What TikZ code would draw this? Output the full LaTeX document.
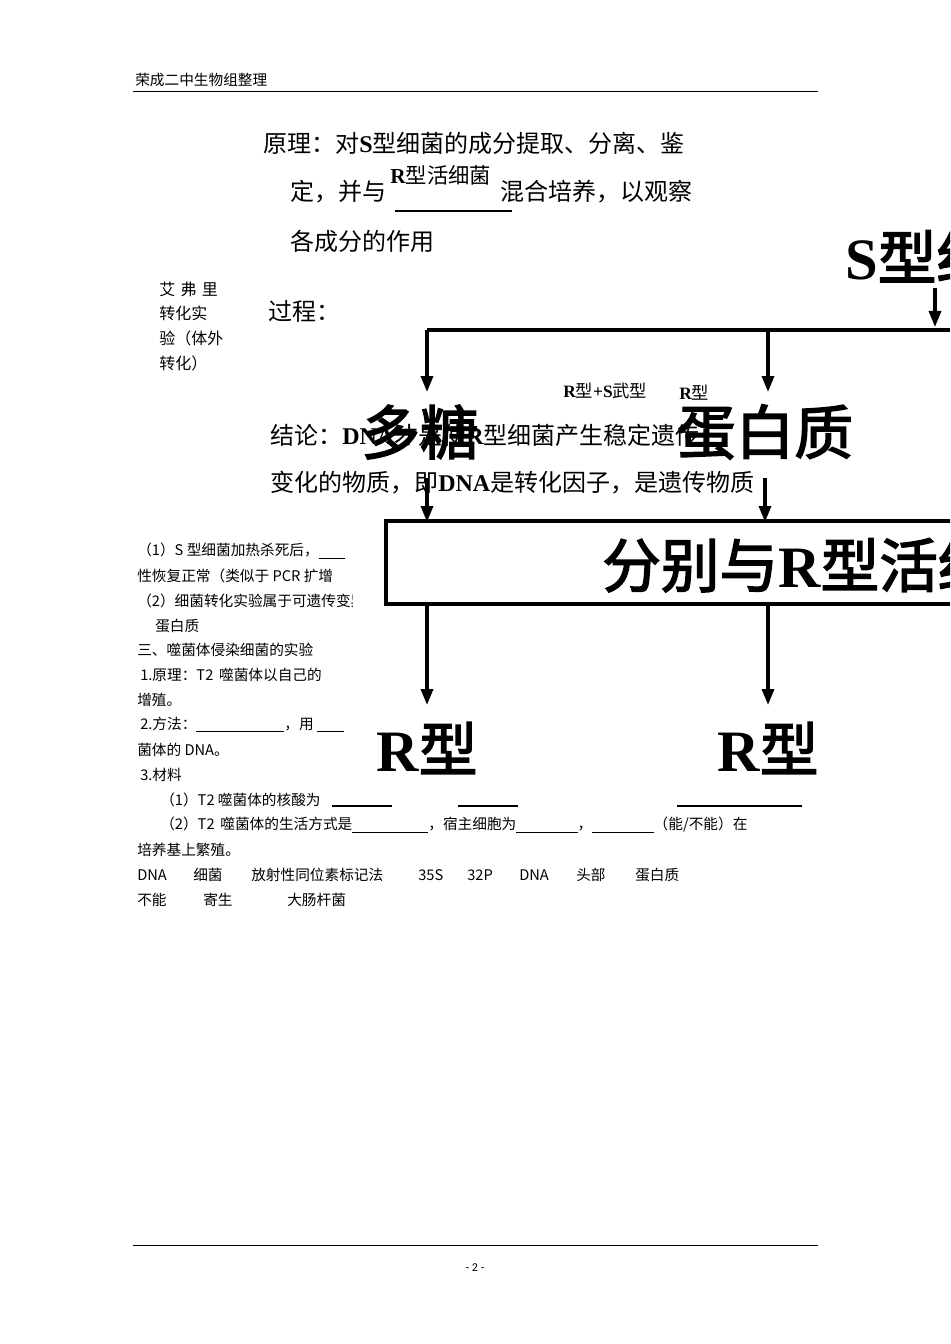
\documentclass[tikz,border=0pt]{standalone}
\usepackage{fontspec}
\setmainfont{Carlito}
\newfontfamily\cjk[AutoFakeBold=2.5]{Noto Sans CJK SC}
\newfontfamily\ser{Liberation Serif}
\newcommand{\SB}[1]{{\ser\bfseries #1}}
\usetikzlibrary{arrows.meta}
\begin{document}
\begin{tikzpicture}[x=0.75pt,y=-0.75pt,
  t/.style={anchor=west,inner sep=0pt,font=\cjk},
  sm/.style={t,font=\cjk\fontsize{11}{13}\selectfont},
  md/.style={t,font=\cjk\fontsize{18}{20}\selectfont},
  big/.style={anchor=center,inner sep=0pt,font=\cjk\bfseries\fontsize{44}{46}\selectfont},
  arr/.style={line width=2.5pt,-{Triangle[length=12pt,width=9pt]}},
  ln/.style={line width=2.5pt}]
\useasboundingbox (0,0) rectangle (950,1344);
\clip (0,0) rectangle (950,1344);
% header/footer
\node[sm] (hd) at (135,80) {荣成二中生物组整理};
\draw[line width=0.6pt] (133,91) -- (818,91);
\draw[line width=0.6pt] (133,1245) -- (818,1245);
\node[anchor=center,font=\fontsize{9}{10}\selectfont] (pg) at (475,1268) {- 2 -};
% principle
\node[md] (p1) at (263,143) {原理：对\SB{S}型细菌的成分提取、分离、鉴};
\node[md] (p2) at (290,192) {定，并与\hspace{86pt}混合培养，以观察};
\node[t,font=\cjk\fontsize{16}{18}\selectfont] (p2a) at (390,175) {\SB{R}型活细菌};
\draw[line width=0.8pt] (395,211) -- (512,211);
\node[md] (p3) at (290,241) {各成分的作用};
\node[t,font=\cjk\fontsize{12}{14}\selectfont] (a1) at (159,289) {艾\,\,弗\,\,里};
\node[t,font=\cjk\fontsize{12}{14}\selectfont] (a2) at (159,313) {转化实};
\node[t,font=\cjk\fontsize{12}{14}\selectfont] (a3) at (159,338) {验（体外};
\node[t,font=\cjk\fontsize{12}{14}\selectfont] (a4) at (159,363) {转化）};
\node[md] (gc) at (268,311) {过程：};
% conclusion
\node[md] (c1) at (270,435) {结论：\SB{DNA}才是使\SB{R}型细菌产生稳定遗传};
\node[md] (c2) at (270,483) {变化的物质，即\SB{DNA}是转化因子，是遗传物质};
\node[t,font=\cjk\fontsize{13}{15}\selectfont] (rs) at (563,391) {\SB{R}型\SB{+S}武型};
\node[t,font=\cjk\fontsize{13}{15}\selectfont] (rr) at (679,393) {\SB{R}型};
% big flowchart
\node[big] (S) at (845,257) [anchor=west] {\SB{S}型细菌};
\coordinate (sj) at (935,330);
\draw[arr] (935,288) -- (935,327);
\draw[ln] (427,330) -- (950,330);
\node[big] (dt) at (420,432) {多糖};
\node[big] (db) at (765,432) {蛋白质};
\draw[arr] (427,330) -- (427,392);
\draw[arr] (768,330) -- (768,392);
\draw[arr] (427,478) -- (427,522);
\draw[arr] (765,478) -- (765,522);
\draw[line width=3.5pt] (960,521) -- (386,521) -- (386,604) -- (960,604);
\node[big] (fb) at (602,565) [anchor=west] {分别与\SB{R}型活细菌};
\draw[arr] (427,604) -- (427,705);
\draw[arr] (768,604) -- (768,705);
\node[big] (r1) at (427,748) {\SB{R}型};
\node[big] (r2) at (768,748) {\SB{R}型};
% left notes
\begin{scope}
\clip (130,530) rectangle (352,790);
\node[sm] (l1) at (137,551) {（1）S 型细菌加热杀死后，\underline{\ \ \ \ \ \ \ \ }};
\node[sm] (l2) at (137,576) {性恢复正常（类似于 PCR 扩增};
\node[sm] (l3) at (137,601) {（2）细菌转化实验属于可遗传变异};
\node[sm] (l4) at (155,626) {蛋白质};
\node[sm] (l5) at (137,650) {三、噬菌体侵染细菌的实验};
\node[sm] (l6) at (140,675) {1.原理：T2\, 噬菌体以自己的};
\node[sm] (l7) at (137,700) {增殖。};
\node[sm] (l8) at (140,725) {2.方法：\underline{\hspace{66pt}}，用 \underline{\hspace{20pt}}};
\node[sm] (l9) at (137,750) {菌体的 DNA。};
\node[sm] (l10) at (140,775) {3.材料};
\end{scope}
\node[sm] (m1) at (160,800) {（1）T2 噬菌体的核酸为};
\draw[line width=0.8pt] (332,806) -- (392,806);
\draw[line width=0.8pt] (458,806) -- (518,806);
\draw[line width=0.8pt] (677,806) -- (802,806);
\node[sm] (m2) at (160,825) {（2）T2\, 噬菌体的生活方式是\underline{\hspace{57pt}}，宿主细胞为\underline{\hspace{46pt}}，\underline{\hspace{46pt}}（能/不能）在};
\node[sm] (m3) at (137,850) {培养基上繁殖。};
\foreach \x/\w [count=\i] in {137/DNA,193/细菌,251/放射性同位素标记法,418/35S,467/32P,519/DNA,576/头部,635/蛋白质}
  \node[sm] (w\i) at (\x,875) {\w};
\node[sm] (v1) at (137,900) {不能};
\node[sm] (v2) at (203,900) {寄生};
\node[sm] (v3) at (287,900) {大肠杆菌};
\end{tikzpicture}
\end{document}
